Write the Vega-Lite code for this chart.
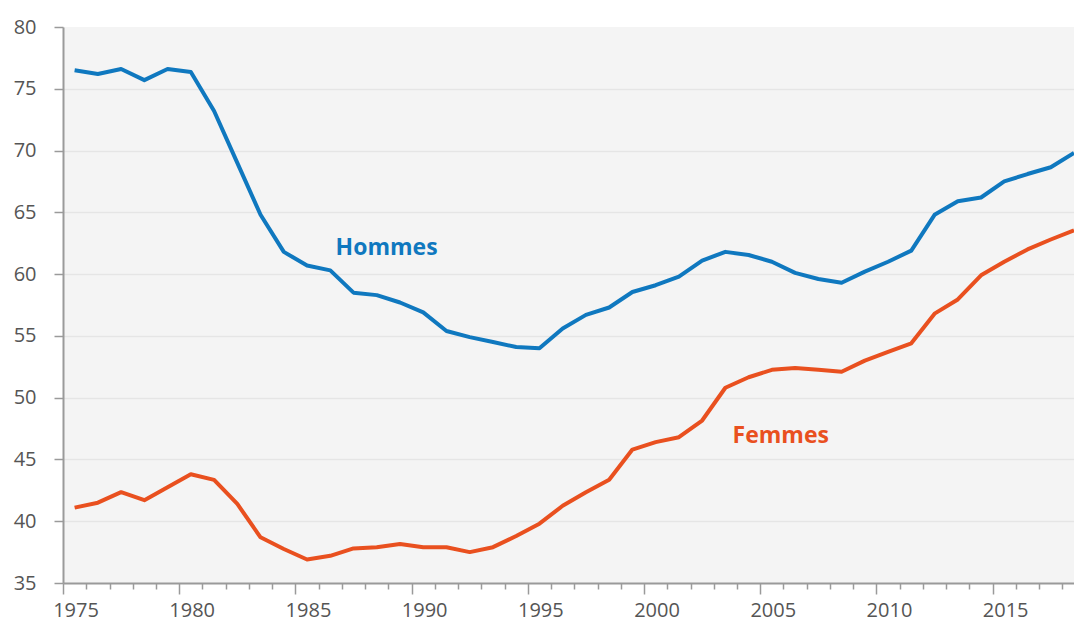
{
  "$schema": "https://vega.github.io/schema/vega-lite/v6.json",
  "width": 1011,
  "height": 556,
  "autosize": "none",
  "padding": {"left": 63, "top": 27, "right": 0, "bottom": 38},
  "background": "#ffffff",
  "config": {
    "view": {"fill": "#f4f4f4", "stroke": null},
    "font": "Open Sans"
  },
  "datasets": {
    "taux": [
      {"annee": "1975", "sexe": "Hommes", "taux": 76.5},
      {"annee": "1976", "sexe": "Hommes", "taux": 76.2},
      {"annee": "1977", "sexe": "Hommes", "taux": 76.6},
      {"annee": "1978", "sexe": "Hommes", "taux": 75.7},
      {"annee": "1979", "sexe": "Hommes", "taux": 76.6},
      {"annee": "1980", "sexe": "Hommes", "taux": 76.35},
      {"annee": "1981", "sexe": "Hommes", "taux": 73.2},
      {"annee": "1982", "sexe": "Hommes", "taux": 69.0},
      {"annee": "1983", "sexe": "Hommes", "taux": 64.8},
      {"annee": "1984", "sexe": "Hommes", "taux": 61.8},
      {"annee": "1985", "sexe": "Hommes", "taux": 60.7},
      {"annee": "1986", "sexe": "Hommes", "taux": 60.3},
      {"annee": "1987", "sexe": "Hommes", "taux": 58.5},
      {"annee": "1988", "sexe": "Hommes", "taux": 58.3},
      {"annee": "1989", "sexe": "Hommes", "taux": 57.7},
      {"annee": "1990", "sexe": "Hommes", "taux": 56.9},
      {"annee": "1991", "sexe": "Hommes", "taux": 55.4},
      {"annee": "1992", "sexe": "Hommes", "taux": 54.9},
      {"annee": "1993", "sexe": "Hommes", "taux": 54.5},
      {"annee": "1994", "sexe": "Hommes", "taux": 54.1},
      {"annee": "1995", "sexe": "Hommes", "taux": 54.0},
      {"annee": "1996", "sexe": "Hommes", "taux": 55.6},
      {"annee": "1997", "sexe": "Hommes", "taux": 56.7},
      {"annee": "1998", "sexe": "Hommes", "taux": 57.3},
      {"annee": "1999", "sexe": "Hommes", "taux": 58.55},
      {"annee": "2000", "sexe": "Hommes", "taux": 59.1},
      {"annee": "2001", "sexe": "Hommes", "taux": 59.8},
      {"annee": "2002", "sexe": "Hommes", "taux": 61.1},
      {"annee": "2003", "sexe": "Hommes", "taux": 61.8},
      {"annee": "2004", "sexe": "Hommes", "taux": 61.55},
      {"annee": "2005", "sexe": "Hommes", "taux": 61.0},
      {"annee": "2006", "sexe": "Hommes", "taux": 60.1},
      {"annee": "2007", "sexe": "Hommes", "taux": 59.6},
      {"annee": "2008", "sexe": "Hommes", "taux": 59.3},
      {"annee": "2009", "sexe": "Hommes", "taux": 60.2},
      {"annee": "2010", "sexe": "Hommes", "taux": 61.0},
      {"annee": "2011", "sexe": "Hommes", "taux": 61.9},
      {"annee": "2012", "sexe": "Hommes", "taux": 64.8},
      {"annee": "2013", "sexe": "Hommes", "taux": 65.9},
      {"annee": "2014", "sexe": "Hommes", "taux": 66.2},
      {"annee": "2015", "sexe": "Hommes", "taux": 67.5},
      {"annee": "2016", "sexe": "Hommes", "taux": 68.1},
      {"annee": "2017", "sexe": "Hommes", "taux": 68.65},
      {"annee": "2018", "sexe": "Hommes", "taux": 69.8},
      {"annee": "1975", "sexe": "Femmes", "taux": 41.1},
      {"annee": "1976", "sexe": "Femmes", "taux": 41.5},
      {"annee": "1977", "sexe": "Femmes", "taux": 42.35},
      {"annee": "1978", "sexe": "Femmes", "taux": 41.7},
      {"annee": "1979", "sexe": "Femmes", "taux": 42.75},
      {"annee": "1980", "sexe": "Femmes", "taux": 43.8},
      {"annee": "1981", "sexe": "Femmes", "taux": 43.35},
      {"annee": "1982", "sexe": "Femmes", "taux": 41.4},
      {"annee": "1983", "sexe": "Femmes", "taux": 38.7},
      {"annee": "1984", "sexe": "Femmes", "taux": 37.75},
      {"annee": "1985", "sexe": "Femmes", "taux": 36.9},
      {"annee": "1986", "sexe": "Femmes", "taux": 37.2},
      {"annee": "1987", "sexe": "Femmes", "taux": 37.8},
      {"annee": "1988", "sexe": "Femmes", "taux": 37.9},
      {"annee": "1989", "sexe": "Femmes", "taux": 38.15},
      {"annee": "1990", "sexe": "Femmes", "taux": 37.9},
      {"annee": "1991", "sexe": "Femmes", "taux": 37.9},
      {"annee": "1992", "sexe": "Femmes", "taux": 37.5},
      {"annee": "1993", "sexe": "Femmes", "taux": 37.9},
      {"annee": "1994", "sexe": "Femmes", "taux": 38.8},
      {"annee": "1995", "sexe": "Femmes", "taux": 39.8},
      {"annee": "1996", "sexe": "Femmes", "taux": 41.25},
      {"annee": "1997", "sexe": "Femmes", "taux": 42.35},
      {"annee": "1998", "sexe": "Femmes", "taux": 43.35},
      {"annee": "1999", "sexe": "Femmes", "taux": 45.8},
      {"annee": "2000", "sexe": "Femmes", "taux": 46.4},
      {"annee": "2001", "sexe": "Femmes", "taux": 46.8},
      {"annee": "2002", "sexe": "Femmes", "taux": 48.15},
      {"annee": "2003", "sexe": "Femmes", "taux": 50.8},
      {"annee": "2004", "sexe": "Femmes", "taux": 51.65},
      {"annee": "2005", "sexe": "Femmes", "taux": 52.25},
      {"annee": "2006", "sexe": "Femmes", "taux": 52.4},
      {"annee": "2007", "sexe": "Femmes", "taux": 52.25},
      {"annee": "2008", "sexe": "Femmes", "taux": 52.1},
      {"annee": "2009", "sexe": "Femmes", "taux": 53.0},
      {"annee": "2010", "sexe": "Femmes", "taux": 53.7},
      {"annee": "2011", "sexe": "Femmes", "taux": 54.4},
      {"annee": "2012", "sexe": "Femmes", "taux": 56.8},
      {"annee": "2013", "sexe": "Femmes", "taux": 57.95},
      {"annee": "2014", "sexe": "Femmes", "taux": 59.9},
      {"annee": "2015", "sexe": "Femmes", "taux": 61.0},
      {"annee": "2016", "sexe": "Femmes", "taux": 62.0},
      {"annee": "2017", "sexe": "Femmes", "taux": 62.8},
      {"annee": "2018", "sexe": "Femmes", "taux": 63.55}
    ],
    "etiquettes": [
      {"date": "1986-09-24", "sexe": "Hommes", "taux": 62.14},
      {"date": "2003-10-23", "sexe": "Femmes", "taux": 46.93}
    ]
  },
  "layer": [
    {
      "data": {"name": "taux"},
      "mark": {"type": "line", "strokeWidth": 4, "strokeJoin": "round", "clip": true},
      "encoding": {
        "x": {
          "field": "annee",
          "type": "temporal",
          "timeUnit": "utcyear",
          "bandPosition": 0.5,
          "scale": {
            "type": "utc",
            "domain": [
              {"year": 1975, "month": 1, "date": 1, "utc": true},
              {"year": 2018, "month": 7, "date": 2, "hours": 12, "utc": true}
            ],
            "nice": false
          },
          "axis": {
            "title": null,
            "grid": false,
            "tickCount": {"interval": "year", "step": 1},
            "labelExpr": "utcyear(datum.value) % 5 === 0 ? utcFormat(datum.value, '%Y') : ''",
            "labelOffset": 12.5,
            "labelOverlap": false,
            "labelFlush": false,
            "labelBound": false,
            "tickSize": {"condition": {"test": "utcyear(datum.value) % 5 === 0", "value": 11}, "value": 6},
            "tickColor": "#9a9a9a",
            "tickWidth": 1.5,
            "domainColor": "#9a9a9a",
            "domainWidth": 2,
            "labelFont": "Open Sans",
            "labelFontSize": 20,
            "labelColor": "#555555",
            "labelPadding": 6
          }
        },
        "y": {
          "field": "taux",
          "type": "quantitative",
          "scale": {"domain": [35, 80], "nice": false, "zero": false},
          "axis": {
            "title": null,
            "values": [35, 40, 45, 50, 55, 60, 65, 70, 75, 80],
            "grid": true,
            "gridColor": "#e5e5e5",
            "gridWidth": 1.5,
            "gridOpacity": {"condition": {"test": "datum.value === 80 || datum.value === 35", "value": 0}, "value": 1},
            "tickSize": 9,
            "tickColor": "#9a9a9a",
            "tickWidth": 1.5,
            "domainColor": "#9a9a9a",
            "domainWidth": 2,
            "labelFont": "Open Sans",
            "labelFontSize": 20,
            "labelColor": "#555555",
            "labelPadding": 18
          }
        },
        "color": {
          "field": "sexe",
          "type": "nominal",
          "scale": {"domain": ["Hommes", "Femmes"], "range": ["#0f78bf", "#e9501f"]},
          "legend": null
        }
      }
    },
    {
      "data": {"name": "etiquettes"},
      "mark": {"type": "text", "align": "left", "baseline": "middle", "fontSize": 23, "fontWeight": "bold", "font": "Open Sans"},
      "encoding": {
        "x": {"field": "date", "type": "temporal", "scale": {"type": "utc"}},
        "y": {"field": "taux", "type": "quantitative"},
        "text": {"field": "sexe"},
        "color": {"field": "sexe", "type": "nominal", "legend": null}
      }
    }
  ]
}
